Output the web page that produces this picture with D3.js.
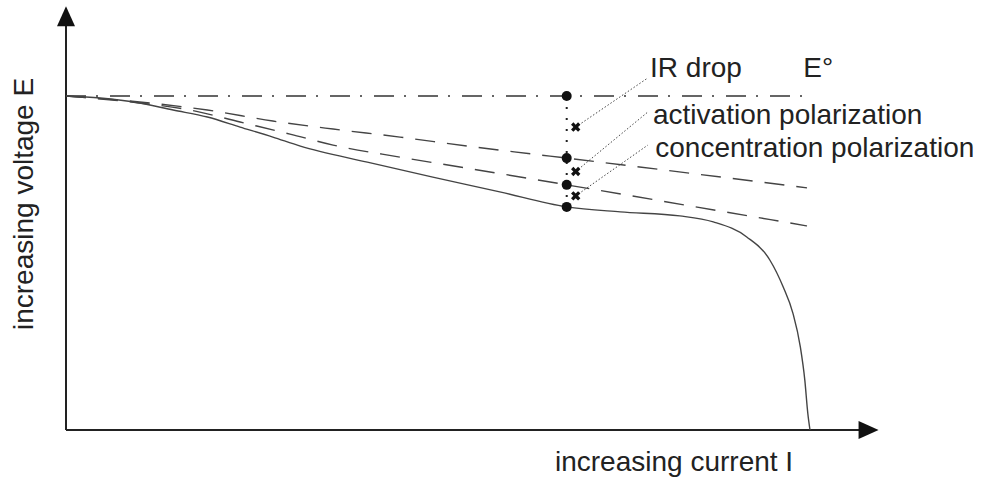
<!DOCTYPE html>
<html>
<head>
<meta charset="utf-8">
<script src="https://cdn.jsdelivr.net/npm/d3@7"></script>
<style>
  html, body { margin: 0; padding: 0; background: #fff; }
  svg { display: block; }
  text { font-family: "Liberation Sans", Arial, Helvetica, sans-serif; fill: #222; }
</style>
</head>
<body>
<svg id="chart" width="1002" height="482"></svg>
<script>
// ---- data (arbitrary units: current 0..1, voltage 0..1 with E° = 1) ----
const curveCurrent = [0, 0.046, 0.099, 0.144, 0.190, 0.234, 0.278, 0.315, 0.405, 0.493, 0.583, 0.673, 0.745, 0.825, 0.870, 0.915, 0.946, 0.964, 0.977, 0.987, 0.993, 0.997, 1.0];
const curveVoltage = [1, 0.994, 0.979, 0.958, 0.937, 0.907, 0.877, 0.850, 0.802, 0.757, 0.713, 0.668, 0.653, 0.641, 0.623, 0.578, 0.509, 0.428, 0.350, 0.249, 0.150, 0.051, 0];

const irCurrent = [0, 0.099, 0.190, 0.278, 0.359, 0.449, 0.539, 0.628, 0.673, 0.996];
const irVoltage = [1, 0.982, 0.958, 0.925, 0.901, 0.877, 0.850, 0.826, 0.814, 0.725];

const actCurrent = [0, 0.099, 0.167, 0.234, 0.301, 0.359, 0.449, 0.539, 0.628, 0.673, 0.996];
const actVoltage = [1, 0.979, 0.958, 0.922, 0.886, 0.853, 0.817, 0.784, 0.751, 0.734, 0.611];

const eStdCurrent = [0, 0.996];
const eStdVoltage = [1, 1];

const markerCurrent = 0.673;
const markerVoltages = [1, 0.814, 0.734, 0.668];

const labels = ["IR drop", "activation polarization", "concentration polarization"];
const eLabel = "E°";
const xTitle = "increasing current I";
const yTitle = "increasing voltage E";

// ---- drawing ----
const svg = d3.select("#chart");
const x = d3.scaleLinear().domain([0, 1]).range([66, 810]);
const y = d3.scaleLinear().domain([0, 1]).range([430, 96]);

const line = d3.line().x(d => x(d[0])).y(d => y(d[1])).curve(d3.curveMonotoneX);
const zip = (a, b) => a.map((v, i) => [v, b[i]]);

// axes
const xEnd = 1.068, yEnd = 1.215;
svg.append("line").attr("x1", x(0)).attr("y1", y(0)).attr("x2", x(xEnd)).attr("y2", y(0))
  .attr("stroke", "#222").attr("stroke-width", 2);
svg.append("line").attr("x1", x(0)).attr("y1", y(0)).attr("x2", x(0)).attr("y2", y(yEnd))
  .attr("stroke", "#222").attr("stroke-width", 2);
// arrowheads
const xa = x(xEnd), ya = y(yEnd);
svg.append("path").attr("d", `M${xa - 2},${y(0) - 9} L${xa + 18},${y(0)} L${xa - 2},${y(0) + 9} Z`).attr("fill", "#111");
svg.append("path").attr("d", `M${x(0) - 9},${ya + 2} L${x(0)},${ya - 18} L${x(0) + 9},${ya + 2} Z`).attr("fill", "#111");

// E° dash-dot line
svg.append("path").datum(zip(eStdCurrent, eStdVoltage)).attr("d", line)
  .attr("fill", "none").attr("stroke", "#333").attr("stroke-width", 1.6)
  .attr("stroke-dasharray", "20,10,2,12");

// dashed lines
[[irCurrent, irVoltage], [actCurrent, actVoltage]].forEach(([c, v]) => {
  svg.append("path").datum(zip(c, v)).attr("d", line)
    .attr("fill", "none").attr("stroke", "#444").attr("stroke-width", 1.4)
    .attr("stroke-dasharray", "20,12");
});

// polarization curve
svg.append("path").datum(zip(curveCurrent, curveVoltage)).attr("d", line)
  .attr("fill", "none").attr("stroke", "#444").attr("stroke-width", 1.4);

// vertical dotted connector
svg.append("line")
  .attr("x1", x(markerCurrent)).attr("x2", x(markerCurrent))
  .attr("y1", y(markerVoltages[0])).attr("y2", y(markerVoltages[3]))
  .attr("stroke", "#222").attr("stroke-width", 2).attr("stroke-dasharray", "2,9");

// markers
svg.selectAll("circle.mk").data(markerVoltages).join("circle").attr("class", "mk")
  .attr("cx", x(markerCurrent)).attr("cy", d => y(d)).attr("r", 5).attr("fill", "#111");

// leader lines to midpoints of each segment
const mids = [0, 1, 2].map(i => (markerVoltages[i] + markerVoltages[i + 1]) / 2);
const labelX = [0.785, 0.789, 0.792];
const labelBase = [1.057, 0.916, 0.817];
const leaderTop = [1.054, 0.952, 0.853];
mids.forEach((m, i) => {
  const ex = x(markerCurrent) + 9, ey = y(m);
  svg.append("line").attr("x1", ex).attr("y1", ey).attr("x2", x(0.782)).attr("y2", y(leaderTop[i]))
    .attr("stroke", "#444").attr("stroke-width", 1).attr("stroke-dasharray", "1.5,2");
  svg.append("path").attr("d", d3.symbol(d3.symbolCross, 55)())
    .attr("transform", `translate(${ex},${ey}) rotate(45)`).attr("fill", "#111");
});

// labels
labels.forEach((t, i) => {
  svg.append("text").attr("x", x(labelX[i])).attr("y", y(labelBase[i]))
    .attr("font-size", 28).text(t);
});
svg.append("text").attr("x", x(0.991)).attr("y", y(1.057)).attr("font-size", 28).text(eLabel);

// axis titles
svg.append("text").attr("x", 555).attr("y", 471).attr("font-size", 28).text(xTitle);
svg.append("text").attr("transform", "translate(33,330) rotate(-90)")
  .attr("font-size", 28).text(yTitle);
</script>
</body>
</html>
